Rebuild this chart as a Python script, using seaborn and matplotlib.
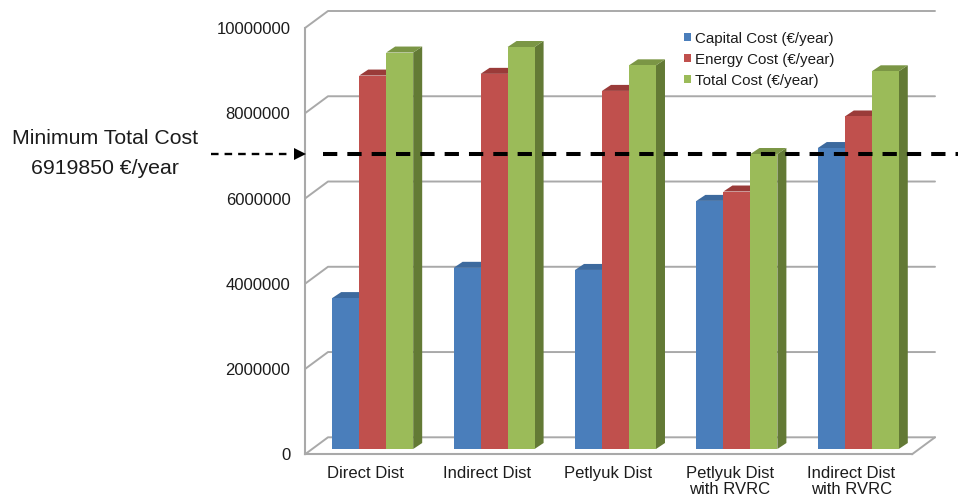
import matplotlib
matplotlib.use("Agg")
import matplotlib.pyplot as plt
from matplotlib.patches import Polygon
from matplotlib.transforms import Affine2D
import pandas as pd
import seaborn as sns

schemes = ["Direct Dist", "Indirect Dist", "Petlyuk Dist",
           "Petlyuk Dist\nwith RVRC", "Indirect Dist\nwith RVRC"]
capital_cost = [3540000, 4250000, 4200000, 5820000, 7060000]
energy_cost = [8760000, 8800000, 8400000, 6040000, 7800000]
total_cost = [9300000, 9430000, 9000000, 6919850, 8860000]
series_names = ["Capital Cost (€/year)", "Energy Cost (€/year)", "Total Cost (€/year)"]
y_ticks = [0, 2000000, 4000000, 6000000, 8000000, 10000000]
minimum_total = 6919850

front_colors = ["#4A7EBB", "#C0504D", "#9BBB59"]
top_colors = ["#3D6A9E", "#9A3B39", "#7B9645"]
side_colors = ["#35597F", "#7F3533", "#637A35"]
wall_color = "#A9A9A9"
text_color = "#1C1C1C"

sns.set_theme(style="white")
plt.rcParams["font.family"] = ["Liberation Sans", "DejaVu Sans"]

W, H = 958, 498
fig = plt.figure(figsize=(W / 100, H / 100), dpi=100)
ax = fig.add_axes([305 / W, (H - 454.3) / H, 607 / W, 426.3 / H])

costs = pd.DataFrame({
    "Scheme": schemes * 3,
    "Series": sum([[n] * len(schemes) for n in series_names], []),
    "Cost": capital_cost + energy_cost + total_cost,
})
sns.barplot(data=costs, x="Scheme", y="Cost", hue="Series", order=schemes,
            hue_order=series_names, palette=front_colors, saturation=1,
            width=0.667, gap=0, linewidth=0, ax=ax)

ax.set_xlim(-0.5, 4.5)
ax.set_ylim(0, 10000000)
ax.set_yticks(y_ticks)
ax.set_yticklabels([str(v) for v in y_ticks])
ax.set_xlabel("")
ax.set_ylabel("")
ax.tick_params(axis="both", length=0, labelsize=12, labelcolor=text_color)
ax.tick_params(axis="x", pad=8.5)
ax.tick_params(axis="y", pad=10.5)
for label in ax.get_xticklabels():
    label.set_linespacing(1.05)
ax.patch.set_alpha(0)
for name in ("top", "right"):
    ax.spines[name].set_visible(False)
for name in ("left", "bottom"):
    ax.spines[name].set_color(wall_color)
    ax.spines[name].set_linewidth(1.5)

# Pixel lengths of the oblique projection, converted to data units.
x_per_px = 5 / 607
y_per_px = 10000000 / 426.3
wall_dx, wall_dy = 23 * x_per_px, 17 * y_per_px
depth_dx, depth_dy = 9 * x_per_px, 6 * y_per_px
bar_plane = ax.transData + Affine2D().translate(7, 5.3)

# Back wall and floor
wall_style = dict(color=wall_color, lw=1.4, clip_on=False, zorder=1)
for v in y_ticks:
    ax.plot([-0.5, -0.5 + wall_dx, 4.5 + wall_dx], [v, v + wall_dy, v + wall_dy], **wall_style)
ax.plot([4.5, 4.5 + wall_dx], [0, wall_dy], **wall_style)

# Extruded sides and tops behind each front face
bars = sorted(ax.patches, key=lambda b: b.get_x())
for order, bar in enumerate(bars):
    x0, w, h = bar.get_x(), bar.get_width(), bar.get_height()
    x1 = x0 + w
    idx = order % 3
    base_z = 3 + order * 0.01
    bar.set_transform(bar_plane)
    bar.set_zorder(base_z + 0.002)
    bar.set_clip_on(False)
    side = Polygon([(x1, 0), (x1 + depth_dx, depth_dy), (x1 + depth_dx, h + depth_dy), (x1, h)],
                   closed=True, facecolor=side_colors[idx], edgecolor="none",
                   transform=bar_plane, zorder=base_z, clip_on=False)
    top = Polygon([(x0, h), (x0 + depth_dx, h + depth_dy), (x1 + depth_dx, h + depth_dy), (x1, h)],
                  closed=True, facecolor=top_colors[idx], edgecolor="none",
                  transform=bar_plane, zorder=base_z + 0.001, clip_on=False)
    ax.add_patch(side)
    ax.add_patch(top)

# Minimum cost reference line with its pointer and caption
level = ax.get_yaxis_transform() + Affine2D().translate(0, 5.8)
frac = lambda px: (px - 305) / 607
ax.plot([frac(323), frac(958)], [minimum_total] * 2, transform=level, color="black",
        lw=2.9, dashes=(3.55, 2.49), dash_capstyle="butt", clip_on=False, zorder=10)
ax.plot([frac(211), frac(292)], [minimum_total] * 2, transform=level, color="black",
        lw=1.7, dashes=(3.2, 2.55), dash_capstyle="butt", clip_on=False, zorder=10)
ax.plot([frac(299.5)], [minimum_total], transform=level, marker=">", ms=9, color="black",
        mew=0, clip_on=False, zorder=10)
fig.text(105 / W, 1 - 138.5 / H, "Minimum Total Cost", ha="center", va="center",
         fontsize=15.3, color=text_color)
fig.text(105 / W, 1 - 168.5 / H, f"{minimum_total} €/year", ha="center", va="center",
         fontsize=15.3, color=text_color)

handles, labels = ax.get_legend_handles_labels()
ax.legend(handles, labels, loc="upper left", bbox_to_anchor=(frac(684), 0.9915),
          frameon=False, fontsize=10.9, labelcolor=text_color, borderpad=0, borderaxespad=0,
          handlelength=0.47, handleheight=0.47, handletextpad=0.28, labelspacing=0.46)

fig.savefig("out.png", dpi=100)
